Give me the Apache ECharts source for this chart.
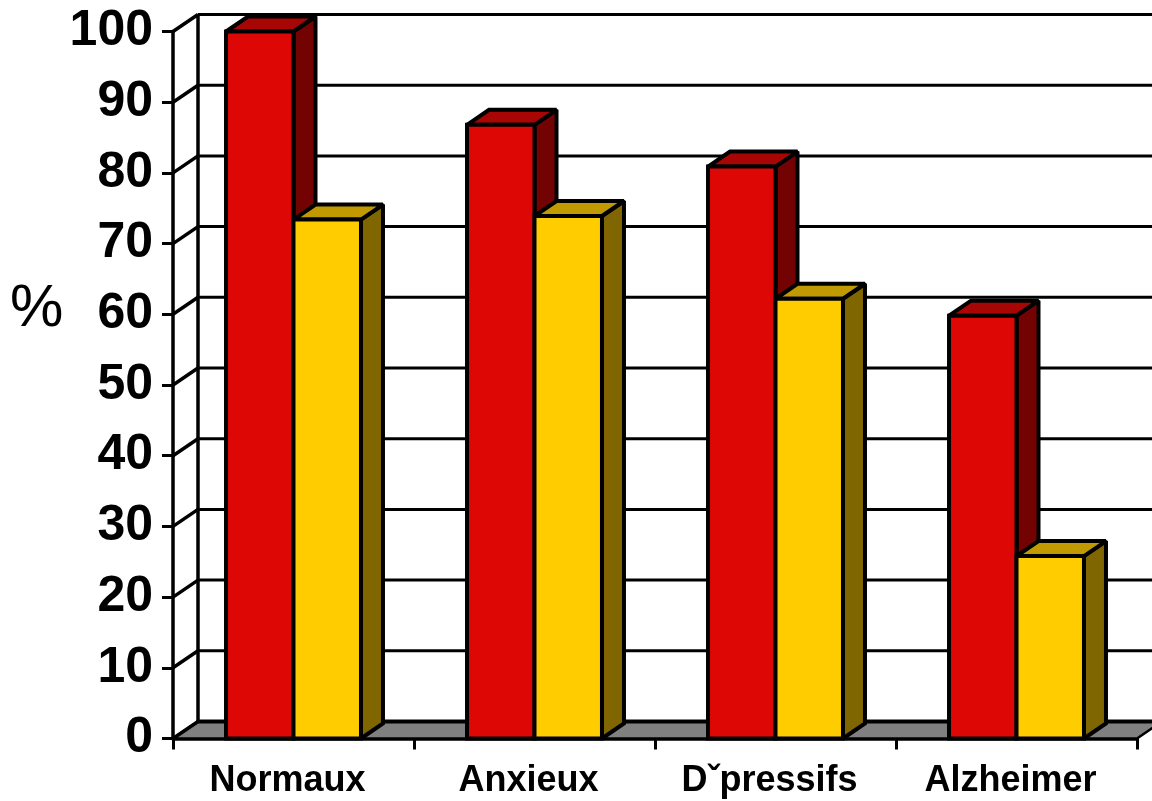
<!DOCTYPE html>
<html>
<head>
<meta charset="utf-8">
<title>Pourcentages par groupe</title>
<script src="https://cdn.jsdelivr.net/npm/echarts@6/dist/echarts.min.js"></script>
<style>
  html, body { margin: 0; padding: 0; background: #ffffff; }
  #chart { width: 1152px; height: 801px; }
</style>
</head>
<body>
<div id="chart"></div>
<script>
// Groups along the horizontal axis
const categories = ['Normaux', 'Anxieux', 'D\u02C7pressifs', 'Alzheimer'];
// Percentages per group (two series)
const redValues = [100, 86.8, 80.9, 59.8];
const yellowValues = [73.4, 73.9, 62.2, 25.8];
// Value axis ticks
const yTicks = [0, 10, 20, 30, 40, 50, 60, 70, 80, 90, 100];

// Oblique depth of the back wall and of the bars
const WALL_DX = 25, WALL_DY = -17;
const BAR_DX = 22, BAR_DY = -15;
const FONT = 'Liberation Sans, Arial, sans-serif';

const chart = echarts.init(document.getElementById('chart'), null, { renderer: 'canvas' });

// Back wall gridlines, left side wall and floor
function renderWall(params, api) {
  const cs = params.coordSys;
  const v = api.value(0);
  const y = api.coord([0, v])[1];
  const x0 = cs.x, x1 = cs.x + cs.width;
  const children = [];
  if (v === 0) {
    children.push({
      type: 'polygon',
      shape: { points: [[x0, y], [x1, y], [x1 + WALL_DX, y + WALL_DY], [x0 + WALL_DX, y + WALL_DY]] },
      style: { fill: '#808080', stroke: '#000', lineWidth: 2.5 }
    });
    const top = api.coord([0, yTicks[yTicks.length - 1]])[1];
    children.push({
      type: 'line',
      shape: { x1: x0 + WALL_DX, y1: top + WALL_DY, x2: x0 + WALL_DX, y2: y + WALL_DY },
      style: { stroke: '#000', lineWidth: 3.5 }
    });
  }
  children.push({
    type: 'line',
    shape: { x1: x0 + WALL_DX, y1: y + WALL_DY, x2: x1 + WALL_DX, y2: y + WALL_DY },
    style: { stroke: '#000', lineWidth: v === 0 ? 4 : 3 }
  });
  children.push({
    type: 'line',
    shape: { x1: x0, y1: y, x2: x0 + WALL_DX, y2: y + WALL_DY },
    style: { stroke: '#000', lineWidth: 3.5 }
  });
  return { type: 'group', children: children };
}

// A bar with front, top and side faces; side = -1 left of the band centre, +1 right of it
function makeBarRenderer(side, front, topFace, sideFace) {
  return function (params, api) {
    const c = api.coord([api.value(0), api.value(1)]);
    const b = api.coord([api.value(0), 0]);
    const band = api.size([1, 0])[0];
    const bw = band * 0.28;
    const x = side < 0 ? c[0] - bw : c[0];
    const yt = c[1], yb = b[1];
    const stroke = { stroke: '#000', lineWidth: 4, lineJoin: 'miter', miterLimit: 2 };
    return {
      type: 'group',
      children: [
        {
          type: 'polygon',
          shape: { points: [[x + bw, yt], [x + bw + BAR_DX, yt + BAR_DY], [x + bw + BAR_DX, yb + BAR_DY], [x + bw, yb]] },
          style: Object.assign({ fill: sideFace }, stroke)
        },
        {
          type: 'polygon',
          shape: { points: [[x, yt], [x + bw, yt], [x + bw + BAR_DX, yt + BAR_DY], [x + BAR_DX, yt + BAR_DY]] },
          style: Object.assign({ fill: topFace }, stroke)
        },
        {
          type: 'rect',
          shape: { x: x, y: yt, width: bw, height: yb - yt },
          style: Object.assign({ fill: front }, stroke)
        }
      ]
    };
  };
}

const option = {
  backgroundColor: '#ffffff',
  animation: false,
  grid: { left: 173, right: 15, top: 31.5, bottom: 62.5 },
  graphic: [
    {
      type: 'text',
      left: 10,
      top: 279,
      style: { text: '%', fill: '#000', font: 'normal 60px ' + FONT }
    }
  ],
  xAxis: {
    type: 'category',
    data: categories,
    boundaryGap: true,
    axisLine: { show: true, lineStyle: { color: '#000', width: 3.5 } },
    axisTick: { show: true, alignWithLabel: false, length: 11, lineStyle: { color: '#000', width: 3 } },
    axisLabel: {
      color: '#000', fontFamily: FONT, fontWeight: 'bold', fontSize: 36,
      margin: 25, padding: [0, 12, 0, 0]
    },
    splitLine: { show: false }
  },
  yAxis: {
    type: 'value',
    min: yTicks[0],
    max: yTicks[yTicks.length - 1],
    interval: yTicks[1] - yTicks[0],
    axisLine: { show: true, lineStyle: { color: '#000', width: 3.5 } },
    axisTick: { show: true, length: 11, lineStyle: { color: '#000', width: 3 } },
    axisLabel: { color: '#000', fontFamily: FONT, fontWeight: 'bold', fontSize: 50, margin: 20 },
    splitLine: { show: false }
  },
  series: [
    {
      type: 'custom',
      name: 'walls',
      silent: true,
      z: 1,
      data: yTicks.map(v => [v]),
      encode: { y: 0 },
      renderItem: renderWall
    },
    {
      type: 'custom',
      name: 'Série 1',
      z: 3,
      data: redValues.map((v, i) => [i, v]),
      encode: { x: 0, y: 1 },
      renderItem: makeBarRenderer(-1, '#DD0806', '#A70604', '#730303')
    },
    {
      type: 'custom',
      name: 'Série 2',
      z: 4,
      data: yellowValues.map((v, i) => [i, v]),
      encode: { x: 0, y: 1 },
      renderItem: makeBarRenderer(1, '#FFCC00', '#C09A00', '#806600')
    }
  ]
};

chart.setOption(option);
</script>
</body>
</html>
